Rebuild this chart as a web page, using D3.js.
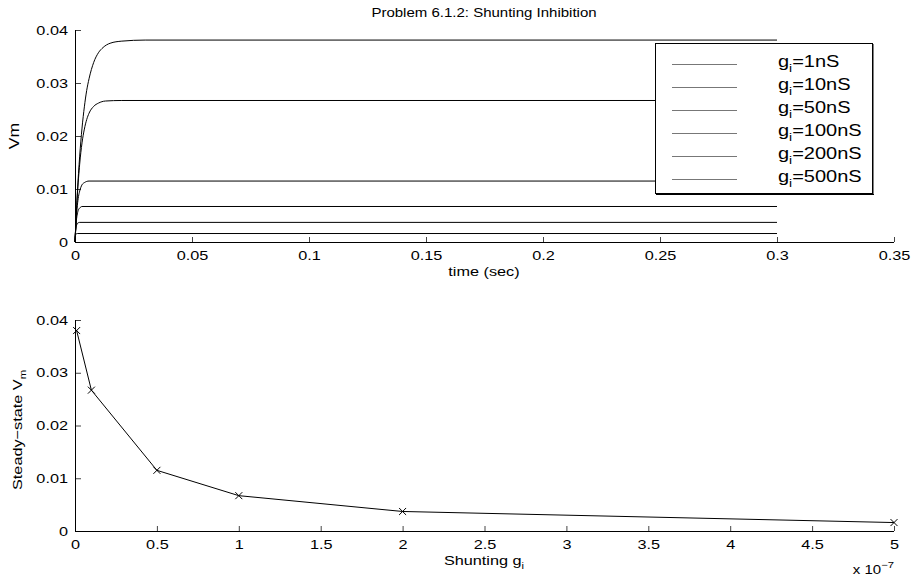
<!DOCTYPE html>
<html><head><meta charset="utf-8">
<script src="https://cdn.jsdelivr.net/npm/d3@7"></script>
<style>body{margin:0;background:#fff}svg{display:block}text{font-family:"Liberation Sans",Arial,Helvetica,sans-serif;fill:#000}</style>
</head><body><svg id="c" width="912" height="577"></svg>
<script>
// ---- data ----
const seriesLabels = ["1nS","10nS","50nS","100nS","200nS","500nS"];
// time (sec), Vm pairs
const curve_1nS   = [[0,0],[0.001,0.0092],[0.002,0.0162],[0.003,0.0215],[0.004,0.0255],[0.005,0.0286],[0.006,0.0308],[0.008,0.0339],[0.010,0.0357],[0.012,0.0367],[0.015,0.0375],[0.020,0.0379],[0.030,0.0381],[0.300,0.0381]];
const curve_10nS  = [[0,0],[0.001,0.0088],[0.002,0.0147],[0.003,0.0187],[0.004,0.0213],[0.005,0.0231],[0.006,0.0243],[0.008,0.0256],[0.010,0.0262],[0.013,0.0266],[0.020,0.0267],[0.300,0.0267]];
const curve_50nS  = [[0,0],[0.0005,0.0042],[0.001,0.0069],[0.0015,0.0086],[0.002,0.0096],[0.003,0.0108],[0.004,0.0112],[0.006,0.0115],[0.300,0.0115]];
const curve_100nS = [[0,0],[0.0003,0.0025],[0.0006,0.0041],[0.001,0.0053],[0.0015,0.0061],[0.002,0.0064],[0.003,0.0067],[0.300,0.0067]];
const curve_200nS = [[0,0],[0.0002,0.0016],[0.0004,0.0025],[0.0007,0.0032],[0.001,0.0035],[0.002,0.0037],[0.300,0.0037]];
const curve_500nS = [[0,0],[0.0001,0.0008],[0.0002,0.0012],[0.0004,0.0015],[0.001,0.0016],[0.300,0.0016]];
const curves = [curve_1nS,curve_10nS,curve_50nS,curve_100nS,curve_200nS,curve_500nS];
// bottom panel
const shuntG  = [1e-9,1e-8,5e-8,1e-7,2e-7,5e-7];
const steadyV = [0.0380,0.0267,0.0115,0.0067,0.0037,0.0016];
// ticks
const topXTicks = [0,0.05,0.1,0.15,0.2,0.25,0.3,0.35];
const topXLabels = ["0","0.05","0.1","0.15","0.2","0.25","0.3","0.35"];
const yTicks = [0,0.01,0.02,0.03,0.04];
const yLabels = ["0","0.01","0.02","0.03","0.04"];
const botXTicks = [0,0.5e-7,1e-7,1.5e-7,2e-7,2.5e-7,3e-7,3.5e-7,4e-7,4.5e-7,5e-7];
const botXLabels = ["0","0.5","1","1.5","2","2.5","3","3.5","4","4.5","5"];

// ---- drawing ----
const svg = d3.select("#c");
const L = 75, R = 894;
const x1 = d3.scaleLinear().domain([0,0.35]).range([L,R]);
const y1 = d3.scaleLinear().domain([0,0.04]).range([242,30]);
const x2 = d3.scaleLinear().domain([0,5e-7]).range([L,R]);
const y2 = d3.scaleLinear().domain([0,0.04]).range([531,320]);

function axes(g, xs, ys, xt, xl, yt, yl){
  const y0 = ys.range()[0], yTop = ys.range()[1];
  const ax = d3.axisBottom(xs).tickValues(xt).tickFormat((d,i)=>xl[i]).tickSize(-5).tickPadding(9);
  const gx = g.append("g").attr("transform",`translate(0,${y0})`).call(ax);
  const ay = d3.axisLeft(ys).tickValues(yt).tickFormat((d,i)=>yl[i]).tickSize(-6).tickPadding(7);
  const gy = g.append("g").attr("transform",`translate(${L},0)`).call(ay);
  [gx,gy].forEach(a=>{
    a.select(".domain").remove();
    a.selectAll(".tick line").attr("stroke","#444");
    a.selectAll(".tick text").attr("font-size",13).attr("fill","#000").attr("class","wide").style("font-family",'"Liberation Sans",Arial,sans-serif');
  });
  g.append("line").attr("x1",L).attr("x2",R).attr("y1",y0+0.5).attr("y2",y0+0.5).attr("stroke","#000");
  g.append("line").attr("x1",L+0.5).attr("x2",L+0.5).attr("y1",yTop).attr("y2",y0).attr("stroke","#000");
}

const gTop = svg.append("g");
axes(gTop,x1,y1,topXTicks,topXLabels,yTicks,yLabels);
const line1 = d3.line().x(d=>x1(d[0])).y(d=>y1(d[1])).curve(d3.curveMonotoneX);
curves.forEach(c=>gTop.append("path").attr("d",line1(c)).attr("fill","none").attr("stroke","#000").attr("stroke-width",1));

gTop.append("text").attr("class","wide").attr("x",484).attr("y",17).attr("text-anchor","middle").attr("font-size",12).text("Problem 6.1.2: Shunting Inhibition");
gTop.append("text").attr("class","wide").attr("x",484).attr("y",276).attr("text-anchor","middle").attr("font-size",13).text("time (sec)");
gTop.append("text").attr("class","wide").attr("transform","translate(19,136) rotate(-90)").attr("text-anchor","middle").attr("font-size",14).text("Vm");

// legend
const lg = gTop.append("g");
lg.append("rect").attr("x",655.5).attr("y",43.5).attr("width",217).attr("height",150).attr("fill","#fff").attr("stroke","#000").attr("stroke-width",1);
lg.append("line").attr("x1",873).attr("x2",873).attr("y1",44).attr("y2",195).attr("stroke","#000");
lg.append("line").attr("x1",656).attr("x2",874).attr("y1",194.5).attr("y2",194.5).attr("stroke","#000");
seriesLabels.forEach((s,i)=>{
  const yy = 64 + i*23;
  lg.append("line").attr("x1",672).attr("x2",737).attr("y1",yy+0.5).attr("y2",yy+0.5).attr("stroke","#777").attr("stroke-width",1.2);
  const t = lg.append("text").attr("class","wide").attr("x",778).attr("y",yy+3).attr("font-size",16);
  t.append("tspan").text("g");
  t.append("tspan").attr("font-size",11).attr("dy",5).text("i");
  t.append("tspan").attr("dy",-5).text("="+s);
});

// bottom panel
const bot = svg.append("g");
axes(bot,x2,y2,botXTicks,botXLabels,yTicks,yLabels);
const pts = shuntG.map((g,i)=>[g,steadyV[i]]);
const line2 = d3.line().x(d=>x2(d[0])).y(d=>y2(d[1]));
bot.append("path").attr("d",line2(pts)).attr("fill","none").attr("stroke","#000").attr("stroke-width",1);
bot.selectAll(".mk").data(pts).join("path").attr("class","mk")
  .attr("d",d=>{const cx=x2(d[0]),cy=y2(d[1]),r=3.5;return `M${cx-r},${cy-r}L${cx+r},${cy+r}M${cx-r},${cy+r}L${cx+r},${cy-r}`;})
  .attr("stroke","#000").attr("stroke-width",1);
const xl = bot.append("text").attr("class","wide").attr("x",484).attr("y",565).attr("text-anchor","middle").attr("font-size",13);
xl.append("tspan").text("Shunting g");
xl.append("tspan").attr("font-size",9).attr("dy",4).text("i");
const ex = bot.append("text").attr("class","wide").attr("x",894).attr("y",574).attr("text-anchor","end").attr("font-size",12);
ex.append("tspan").text("x 10");
ex.append("tspan").attr("font-size",9).attr("dy",-6).text("−7");
const yl2 = bot.append("text").attr("class","wide").attr("transform","translate(22,430) rotate(-90)").attr("text-anchor","middle").attr("font-size",13);
yl2.append("tspan").text("Steady−state V");
yl2.append("tspan").attr("font-size",9).attr("dy",4).text("m");

// the reference text is horizontally widened; stretch glyphs along the writing direction
svg.selectAll("text.wide").each(function(){
  const len = this.getComputedTextLength();
  d3.select(this).attr("textLength", len*1.25).attr("lengthAdjust","spacingAndGlyphs");
});
</script></body></html>
